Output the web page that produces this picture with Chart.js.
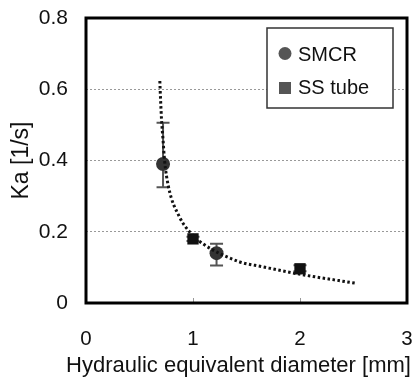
<!DOCTYPE html>
<html><head><meta charset="utf-8">
<script src="https://cdn.jsdelivr.net/npm/chart.js@4"></script>
<style>html,body{margin:0;padding:0;background:#fff}#wrap{width:415px;height:379px}</style>
</head><body><div id="wrap"><canvas id="c" width="415" height="379"></canvas></div>
<script>
// ---- data ----
const xTicks = [0, 1, 2, 3];
const yTicks = [0, 0.2, 0.4, 0.6, 0.8];
const smcrX = [0.72, 1.22];
const smcrY = [0.39, 0.14];
const smcrErrLow = [0.325, 0.105];
const smcrErrHigh = [0.506, 0.166];
const ssX = [1.0, 2.0];
const ssY = [0.18, 0.096];
const ssErrLow = [0.174, 0.089];
const ssErrHigh = [0.186, 0.106];
const fitX = [0.690, 0.697, 0.706, 0.720, 0.734, 0.771, 0.873, 0.982, 1.089, 1.430, 1.647, 1.957, 2.529];
const fitY = [0.623, 0.570, 0.514, 0.458, 0.401, 0.326, 0.242, 0.195, 0.167, 0.116, 0.102, 0.083, 0.055];
const legendLabels = ['SMCR', 'SS tube'];
const xTitle = 'Hydraulic equivalent diameter [mm]';
const yTitle = 'Ka [1/s]';

const FONT = '"Liberation Sans", Arial, sans-serif';
const toPts = (xs, ys) => xs.map((x, i) => ({x: x, y: ys[i]}));

const errorBars = {
  id: 'errorBars',
  beforeDatasetsDraw(chart) {
    const {ctx, scales: {x, y}} = chart;
    ctx.save();
    ctx.strokeStyle = '#555';
    ctx.lineWidth = 2;
    const draw = (xs, lo, hi) => {
      xs.forEach((xv, i) => {
        const px = x.getPixelForValue(xv);
        const p1 = y.getPixelForValue(lo[i]);
        const p2 = y.getPixelForValue(hi[i]);
        ctx.beginPath();
        ctx.moveTo(px, p1); ctx.lineTo(px, p2);
        ctx.moveTo(px - 6.5, p1); ctx.lineTo(px + 6.5, p1);
        ctx.moveTo(px - 6.5, p2); ctx.lineTo(px + 6.5, p2);
        ctx.stroke();
      });
    };
    draw(smcrX, smcrErrLow, smcrErrHigh);
    draw(ssX, ssErrLow, ssErrHigh);
    ctx.restore();
  },
  afterDraw(chart) {
    const {ctx, chartArea: a, scales: {x}} = chart;
    ctx.save();
    ctx.strokeStyle = '#999';
    ctx.lineWidth = 1;
    xTicks.slice(1, -1).forEach(v => {
      const px = Math.round(x.getPixelForValue(v)) + 0.5;
      ctx.beginPath(); ctx.moveTo(px, a.bottom); ctx.lineTo(px, a.bottom - 5); ctx.stroke();
    });
    ctx.strokeStyle = '#000';
    ctx.lineWidth = 3;
    ctx.strokeRect(a.left, a.top, a.right - a.left, a.bottom - a.top);
    // legend
    const lx = 267, ly = 28, lw = 126, lh = 80;
    ctx.fillStyle = '#fff';
    ctx.fillRect(lx, ly, lw, lh);
    ctx.strokeStyle = '#333';
    ctx.lineWidth = 1.5;
    ctx.strokeRect(lx, ly, lw, lh);
    ctx.fillStyle = '#555';
    ctx.beginPath(); ctx.arc(285, 53.5, 6.5, 0, Math.PI * 2); ctx.fill();
    ctx.fillRect(279, 82, 12, 12);
    ctx.fillStyle = '#111';
    ctx.font = '20px ' + FONT;
    ctx.textBaseline = 'alphabetic';
    ctx.textAlign = 'left';
    ctx.fillText(legendLabels[0], 298, 61);
    ctx.fillText(legendLabels[1], 298, 94);
    // x axis title (wider than the plot area, so drawn here without a width cap)
    ctx.font = '22px ' + FONT;
    ctx.textAlign = 'center';
    ctx.fillText(xTitle, 238.5, 371.5);
    ctx.restore();
  }
};

new Chart(document.getElementById('c'), {
  type: 'scatter',
  data: {
    datasets: [
      {label: 'fit', data: toPts(fitX, fitY), showLine: true, borderColor: '#111', borderWidth: 3,
       borderDash: [2.5, 2.5], pointRadius: 0, cubicInterpolationMode: 'monotone', fill: false},
      {label: legendLabels[0], data: toPts(smcrX, smcrY), pointStyle: 'circle', pointRadius: 7,
       backgroundColor: '#333', borderColor: '#333', borderWidth: 0},
      {label: legendLabels[1], data: toPts(ssX, ssY), pointStyle: 'rect', pointRadius: 8,
       backgroundColor: '#111', borderColor: '#111', borderWidth: 0}
    ]
  },
  options: {
    responsive: false,
    animation: false,
    events: [],
    layout: {padding: {left: 0, right: 6, top: 18, bottom: 0}},
    plugins: {legend: {display: false}, tooltip: {enabled: false}},
    scales: {
      x: {
        type: 'linear', min: xTicks[0], max: xTicks[xTicks.length - 1],
        afterBuildTicks: s => { s.ticks = xTicks.map(v => ({value: v})); },
        afterFit: s => { s.height = 76; s.paddingLeft = 0; s.paddingRight = 0; },
        grid: {display: false, drawTicks: false},
        border: {display: false},
        ticks: {padding: 24, color: '#111', font: {family: FONT, size: 20.5}},
        title: {display: false}
      },
      y: {
        type: 'linear', min: yTicks[0], max: yTicks[yTicks.length - 1],
        afterBuildTicks: s => { s.ticks = yTicks.map(v => ({value: v})); },
        afterFit: s => { s.width = 86; s.paddingTop = 0; s.paddingBottom = 0; },
        grid: {drawTicks: false, lineWidth: 1,
               color: c => (c.tick && (c.tick.value === 0 || c.tick.value === 0.8)) ? 'rgba(0,0,0,0)' : '#999'},
        border: {display: false, dash: [2, 2]},
        ticks: {padding: 18, color: '#111', font: {family: FONT, size: 21},
                callback: v => String(v)},
        title: {display: true, text: yTitle, color: '#111', font: {family: FONT, size: 23}, padding: {top: 8, bottom: 0}}
      }
    }
  },
  plugins: [errorBars]
});
</script></body></html>
